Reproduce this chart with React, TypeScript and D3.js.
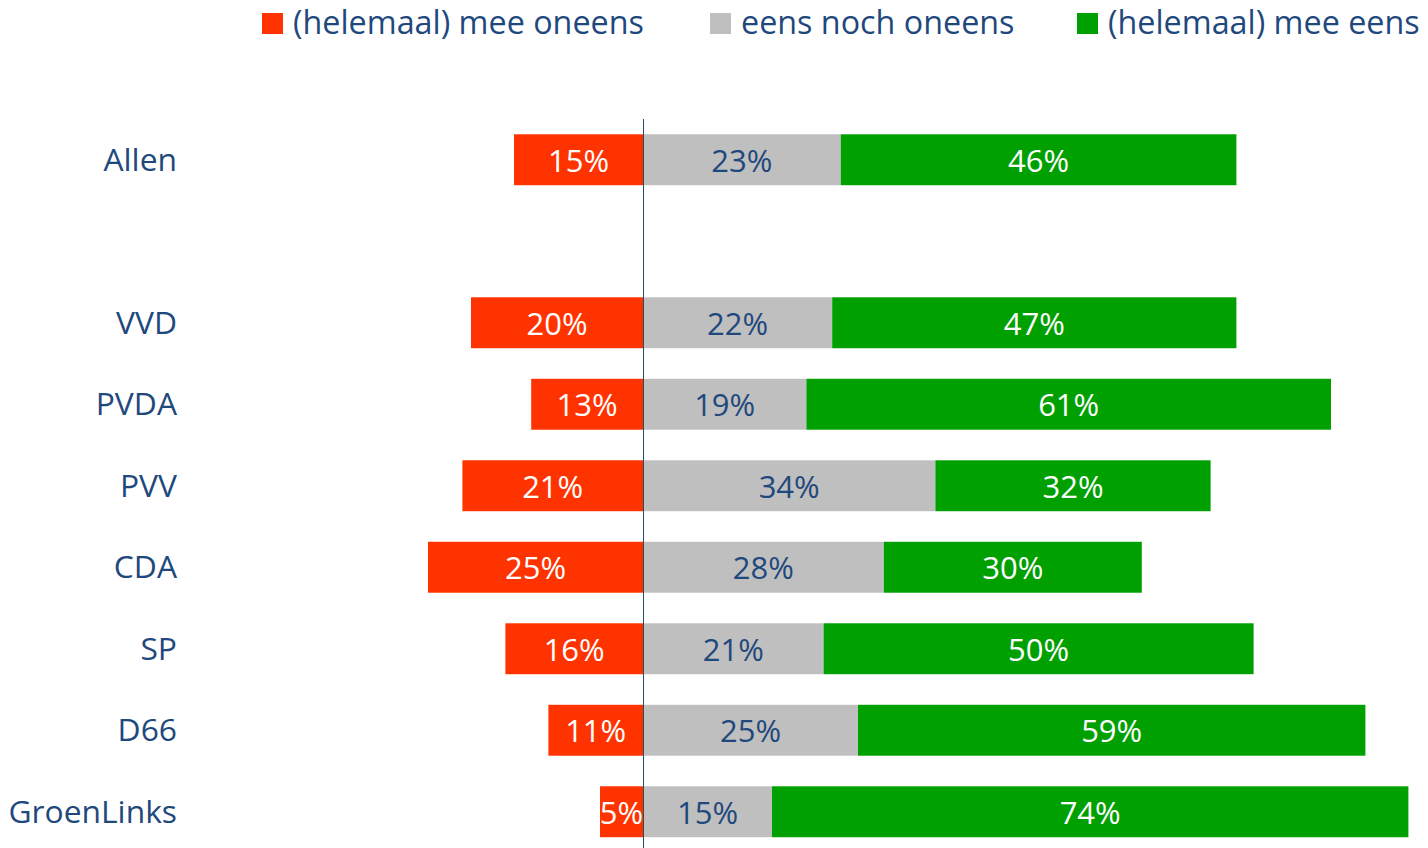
import React from "react";
import * as d3 from "d3";

const categories = ["Allen", "", "VVD", "PVDA", "PVV", "CDA", "SP", "D66", "GroenLinks"];
const disagree = [15, null, 20, 13, 21, 25, 16, 11, 5];
const neutral = [23, null, 22, 19, 34, 28, 21, 25, 15];
const agree = [46, null, 47, 61, 32, 30, 50, 59, 74];
const seriesNames = ["(helemaal) mee oneens", "eens noch oneens", "(helemaal) mee eens"];
const seriesColors = ["#FF3300", "#BFBFBF", "#00A000"];
const labelColors = ["#FFFFFF", "#1F497D", "#FFFFFF"];

const W = 1428;
const H = 848;
const FONT = "'Open Sans', 'Noto Sans', sans-serif";
const TEXT = "#1F497D";

export default function App() {
  const x = d3.scaleLinear().domain([0, 100]).range([643, 643 + 860]);
  const y = d3.scaleBand<string>().domain(categories.map((c, i) => String(i))).range([119, 119 + 9 * 81.5]).paddingInner(0.375).paddingOuter(0.1875);

  const rows = categories.map((c, i) => {
    const d = disagree[i];
    const n = neutral[i];
    const a = agree[i];
    if (d == null || n == null || a == null) return null;
    const segs = [
      { s: 0, x0: -d, x1: 0, v: d },
      { s: 1, x0: 0, x1: n, v: n },
      { s: 2, x0: n, x1: n + a, v: a },
    ];
    return { c, i, segs };
  });

  const legendX = [262, 710, 1077];

  return (
    <svg width={W} height={H} style={{ position: "fixed", left: 0, top: 0, background: "#fff" }} fontFamily={FONT}>
      {seriesNames.map((name, k) => (
        <g key={name}>
          <rect x={legendX[k]} y={13} width={21} height={21} fill={seriesColors[k]} />
          <text x={legendX[k] + 31} y={23} dy="0.35em" fontSize={32.3} fill={TEXT}>{name}</text>
        </g>
      ))}
      {rows.map((r) =>
        r == null ? null : (
          <g key={r.c}>
            {r.segs.map((sg) => (
              <rect
                key={sg.s}
                x={x(sg.x0)}
                y={y(String(r.i))!}
                width={x(sg.x1) - x(sg.x0)}
                height={y.bandwidth()}
                fill={seriesColors[sg.s]}
              />
            ))}
            {r.segs.map((sg) => (
              <text
                key={"l" + sg.s}
                x={(x(sg.x0) + x(sg.x1)) / 2}
                y={y(String(r.i))! + y.bandwidth() / 2 + 1}
                dy="0.35em"
                textAnchor="middle"
                fontSize={31}
                fill={labelColors[sg.s]}
              >
                {sg.v}%
              </text>
            ))}
          </g>
        )
      )}
      {categories.map((c, i) =>
        c ? (
          <text key={c} x={177} y={y(String(i))! + y.bandwidth() / 2} dy="0.35em" textAnchor="end" fontSize={31.8} fill={TEXT}>
            {c}
          </text>
        ) : null
      )}
      <line x1={x(0) + 0.5} x2={x(0) + 0.5} y1={119} y2={H} stroke="#1F4E6E" strokeWidth={1} />
    </svg>
  );
}
